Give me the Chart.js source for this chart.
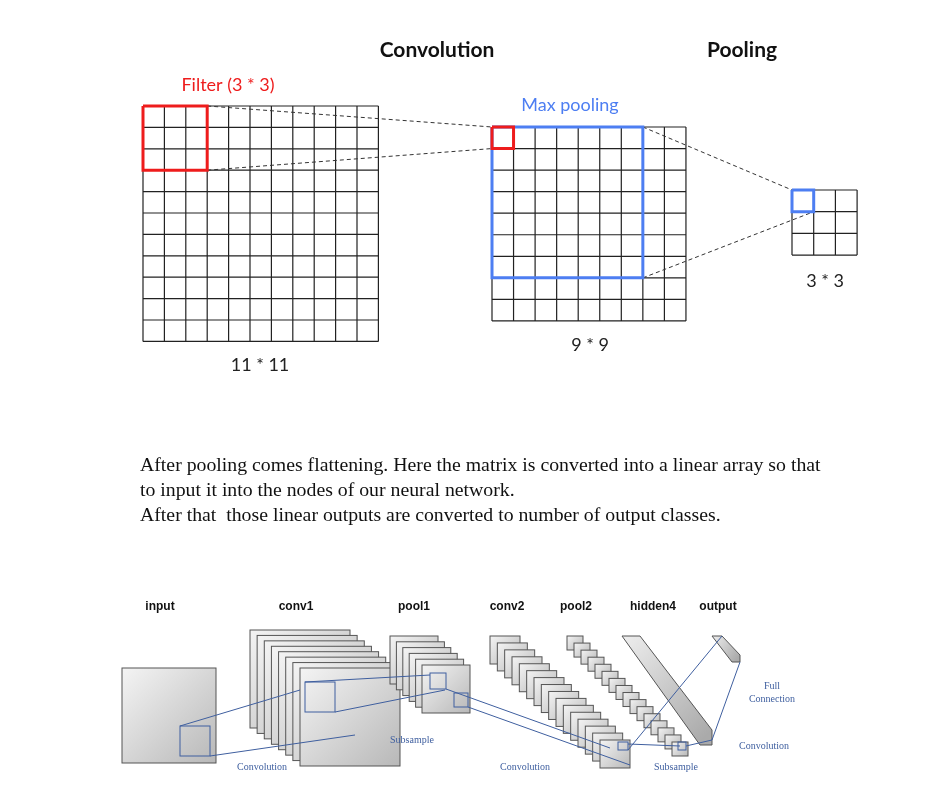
<!DOCTYPE html>
<html>
<head>
<meta charset="utf-8">
<script src="https://cdn.jsdelivr.net/npm/chart.js@4/dist/chart.umd.min.js"></script>
<style>
  body { margin: 0; background: #fff; }
  canvas { display: block; }
</style>
</head>
<body>
<canvas id="diagram" width="946" height="805"></canvas>
<script>
// ===== DATA =====
const gridSizes = [11, 9, 3];
const gridLabels = ["11 * 11", "9 * 9", "3 * 3"];
const stepTitles = ["Convolution", "Pooling"];
const windowLabels = ["Filter (3 * 3)", "Max pooling"];
const windowCells = [3, 7];
const paragraph = [
    "After pooling comes flattening. Here the matrix is converted into a linear array so that",
    "to input it into the nodes of our neural network.",
    "After that  those linear outputs are converted to number of output classes."
];
const layerNames = ["input", "conv1", "pool1", "conv2", "pool2", "hidden4", "output"];
const layerMaps = [1, 8, 6, 16, 16, 1, 1];
const opNames = ["Convolution", "Subsample", "Convolution", "Subsample", "Full", "Connection", "Convolution"];

// grid origins (top-left) and cell size, in chart units
const grids = [
    { x: 143, y: 106, cell: 21.4 },
    { x: 492, y: 127, cell: 21.55 },
    { x: 792, y: 190, cell: 21.7 }
];

function gridSegments(g, n) {
    const pts = [];
    const len = g.cell * n;
    for (let i = 0; i <= n; i++) {
        pts.push({ x: g.x + i * g.cell, y: g.y }, { x: g.x + i * g.cell, y: g.y + len }, { x: NaN, y: NaN });
        pts.push({ x: g.x, y: g.y + i * g.cell }, { x: g.x + len, y: g.y + i * g.cell }, { x: NaN, y: NaN });
    }
    return pts;
}

function box(x, y, w, h) {
    return [{ x: x, y: y }, { x: x + w, y: y }, { x: x + w, y: y + h }, { x: x, y: y + h }, { x: x, y: y }];
}

const lineDs = (data, color, width, dash, order) => ({
    type: "line", data, borderColor: color, borderWidth: width, borderDash: dash || [],
    pointRadius: 0, showLine: true, fill: false, spanGaps: false, tension: 0, order: order
});

const datasets = [];
gridSizes.forEach((n, i) => datasets.push(lineDs(gridSegments(grids[i], n), "#222", 1.2, [], 5)));

// windows (drawn on top of grids)
const g0 = grids[0], g1 = grids[1], g2 = grids[2];
datasets.push(lineDs(box(g0.x, g0.y, g0.cell * windowCells[0], g0.cell * windowCells[0]), "#ee1c1c", 3, [], 1));
datasets.push(lineDs(box(g1.x, g1.y, g1.cell * windowCells[1], g1.cell * windowCells[1]), "#4d7ef2", 3, [], 1));
datasets.push(lineDs(box(g1.x, g1.y, g1.cell, g1.cell), "#ee1c1c", 3, [], 0));
datasets.push(lineDs(box(g2.x, g2.y, g2.cell, g2.cell), "#4d7ef2", 3, [], 0));

// dashed connectors
const fx = g0.x + g0.cell * 3, fy2 = g0.y + g0.cell * 3;
const bx = g1.x + g1.cell * 7, by2 = g1.y + g1.cell * 7;
datasets.push(lineDs([{ x: fx, y: g0.y }, { x: g1.x, y: g1.y }, { x: NaN, y: NaN },
    { x: fx, y: fy2 }, { x: g1.x, y: g1.y + g1.cell }], "#333", 1, [4, 3], 3));
datasets.push(lineDs([{ x: bx, y: g1.y }, { x: g2.x, y: g2.y }, { x: NaN, y: NaN },
    { x: bx, y: by2 }, { x: g2.x + g2.cell, y: g2.y + g2.cell }], "#333", 1, [4, 3], 3));

// ===== TEXT + CNN SKETCH PLUGIN =====
const overlay = {
    id: "overlay",
    afterDatasetsDraw(chart) {
        const c = chart.ctx, sx = chart.scales.x, sy = chart.scales.y;
        const X = v => sx.getPixelForValue(v), Y = v => sy.getPixelForValue(v);
        const text = (s, x, y, font, color, align) => {
            c.font = font; c.fillStyle = color || "#111";
            c.textAlign = align || "center"; c.textBaseline = "middle";
            c.fillText(s, X(x), Y(y));
        };
        text(stepTitles[0], 437, 50, "bold 21px Lato", "#111");
        text(stepTitles[1], 742, 50, "bold 21px Lato", "#111");
        text(windowLabels[0], 228, 85, "18px Lato", "#ee1c1c");
        text(windowLabels[1], 570, 105, "18px Lato", "#4d7ef2");
        text(gridLabels[0], 260, 365, "18px Lato", "#222");
        text(gridLabels[1], 590, 345, "18px Lato", "#222");
        text(gridLabels[2], 825, 281, "18px Lato", "#222");
        paragraph.forEach((s, i) => text(s, 140, 466 + i * 25, "19.8px 'Liberation Serif'", "#111", "left"));

        // layer names
        const lx = [160, 296, 414, 507, 576, 653, 718];
        layerNames.forEach((s, i) => text(s, lx[i], 607, "bold 12px 'Liberation Sans'", "#111"));

        const sq = (x, y, w, h) => {
            const gr = c.createLinearGradient(X(x), Y(y), X(x + w), Y(y + h));
            gr.addColorStop(0, "#f4f4f4"); gr.addColorStop(1, "#b8b8b8");
            c.fillStyle = gr; c.strokeStyle = "#555"; c.lineWidth = 1;
            c.fillRect(X(x), Y(y), X(x + w) - X(x), Y(y + h) - Y(y));
            c.strokeRect(X(x), Y(y), X(x + w) - X(x), Y(y + h) - Y(y));
        };
        const stack = (n, x0, y0, x1, y1, w, h) => {
            for (let i = 0; i < n; i++) {
                const t = n > 1 ? i / (n - 1) : 0;
                sq(x0 + (x1 - x0) * t, y0 + (y1 - y0) * t, w, h);
            }
        };
        stack(layerMaps[0], 122, 668, 122, 668, 94, 95);
        stack(layerMaps[1], 250, 630, 300, 668, 100, 98);
        stack(layerMaps[2], 390, 636, 422, 665, 48, 48);
        stack(layerMaps[3], 490, 636, 600, 740, 30, 28);
        stack(layerMaps[4], 567, 636, 672, 742, 16, 14);

        // hidden4 and output bars
        const poly = (pts) => {
            c.beginPath(); pts.forEach((p, i) => i ? c.lineTo(X(p[0]), Y(p[1])) : c.moveTo(X(p[0]), Y(p[1])));
            c.closePath();
            const gr = c.createLinearGradient(X(pts[0][0]), Y(pts[0][1]), X(pts[2][0]), Y(pts[2][1]));
            gr.addColorStop(0, "#eee"); gr.addColorStop(1, "#aaa");
            c.fillStyle = gr; c.fill(); c.strokeStyle = "#555"; c.stroke();
        };
        poly([[622, 636], [640, 636], [712, 730], [712, 745], [700, 745]]);
        poly([[712, 636], [722, 636], [740, 655], [740, 662], [732, 662]]);

        // receptive-field boxes and links
        c.strokeStyle = "#3f5f9f"; c.lineWidth = 1;
        const rect = (x, y, w, h) => c.strokeRect(X(x), Y(y), X(x + w) - X(x), Y(y + h) - Y(y));
        const ln = (pts) => { c.beginPath(); pts.forEach((p, i) => i ? c.lineTo(X(p[0]), Y(p[1])) : c.moveTo(X(p[0]), Y(p[1]))); c.stroke(); };
        rect(180, 726, 30, 30); ln([[180, 726], [300, 690]]); ln([[210, 756], [355, 735]]);
        rect(305, 682, 30, 30); ln([[305, 682], [430, 675]]); ln([[335, 712], [445, 690]]);
        rect(430, 673, 16, 16); rect(454, 693, 14, 14);
        ln([[446, 689], [610, 748]]); ln([[468, 707], [630, 765]]);
        rect(618, 742, 10, 8); ln([[628, 744], [680, 746]]);
        rect(678, 742, 8, 8); ln([[686, 746], [712, 740]]); ln([[712, 740], [740, 662]]);
        ln([[722, 636], [628, 750]]);

        const small = "10px 'Liberation Serif'";
        text(opNames[0], 262, 767, small, "#3f5f9f");
        text(opNames[1], 412, 740, small, "#3f5f9f");
        text(opNames[2], 525, 767, small, "#3f5f9f");
        text(opNames[3], 676, 767, small, "#3f5f9f");
        text(opNames[4], 772, 686, small, "#3f5f9f");
        text(opNames[5], 772, 699, small, "#3f5f9f");
        text(opNames[6], 764, 746, small, "#3f5f9f");
    }
};

new Chart(document.getElementById("diagram"), {
    type: "scatter",
    data: { datasets },
    options: {
        responsive: false,
        animation: false,
        layout: { padding: 0 },
        plugins: { legend: { display: false }, tooltip: { enabled: false } },
        scales: {
            x: { type: "linear", min: 0, max: 946, display: false },
            y: { type: "linear", min: 0, max: 805, reverse: true, display: false }
        }
    },
    plugins: [overlay]
});
</script>
</body>
</html>
